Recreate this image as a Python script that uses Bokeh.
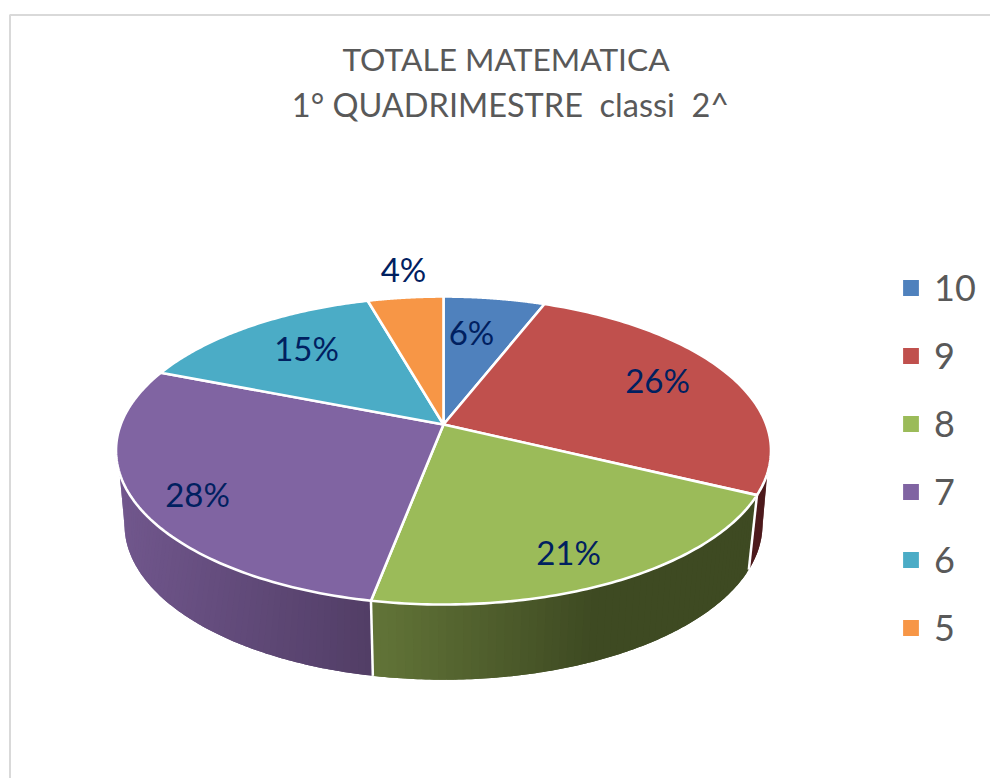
import numpy as np
from bokeh.plotting import figure
from bokeh.models import ColumnDataSource, Legend, LegendItem, Range1d
from bokeh.core.properties import value
from bokeh.embed import file_html
from bokeh.resources import INLINE

categories = ["10", "9", "8", "7", "6", "5"]
shares = [5.9, 26.3, 20.8, 28.0, 14.6, 4.4]
labels = ["6%", "26%", "21%", "28%", "15%", "4%"]
colors = ["#4f81bd", "#c0504d", "#9bbb59", "#8064a2", "#4bacc6", "#f79646"]
title_lines = ["TOTALE MATEMATICA", "1° QUADRIMESTRE\u00a0\u00a0classi\u00a0\u00a02^"]

FONT = "Lato"
GREY = "#595959"
NAVY = "#002060"

A = 0.169
def project(theta_deg, cx, cy, c, b):
    t = np.radians(theta_deg)
    u, v = np.sin(t), np.cos(t)
    d = 1 + A * v
    return cx + c * u / d, cy - b * v / d

def top(t):
    return project(t, 443, 424, 322.8, 149.6)

def bottom(t):
    return project(t, 443, 498, 314.4, 150.6)

W, H = 990, 778
p = figure(width=W, height=H, output_backend="svg", toolbar_location=None,
           x_range=Range1d(0, W), y_range=Range1d(H, 0), min_border=0,
           outline_line_color=None, background_fill_color="white")
p.axis.visible = False
p.grid.visible = False

p.line([W, 9.5, 9.5], [14.5, 14.5, H], line_color="#d9d9d9", line_width=2)

cum = np.cumsum([0] + shares) * 3.6

def mix(c0, c1, f):
    f = min(max(f, 0), 1)
    r = [int(round(a + (b - a) * f)) for a, b in zip(c0, c1)]
    return "#%02x%02x%02x" % tuple(r)

def wall(t0, t1, b0, b1, shade, n=60):
    xs, ys, fc = [], [], []
    for i in range(n):
        j = min(i + 2, n)
        ta = np.linspace(t0 + (t1 - t0) * i / n, t0 + (t1 - t0) * j / n, 5)
        tb = np.linspace(b0 + (b1 - b0) * i / n, b0 + (b1 - b0) * j / n, 5)
        x0, y0 = top(ta)
        x1, y1 = bottom(tb[::-1])
        xs.append(list(x0) + list(x1))
        ys.append(list(y0) + list(y1))
        fc.append(shade(float(np.mean(x0))))
    s = ColumnDataSource(dict(xs=xs, ys=ys, fc=fc))
    p.patches("xs", "ys", source=s, fill_color="fc", line_color=None)

wall(108, cum[2], 100, cum[2], lambda x: "#4d1a1c", n=10)
wall(cum[2], cum[3], cum[2], cum[3],
     lambda x: mix((62, 74, 34), (97, 115, 55), (590 - x) / (590 - 375)))
wall(cum[3], 252, cum[3], 260,
     lambda x: mix((81, 61, 101), (113, 87, 141), (372 - x) / (372 - 120)))

for t in (cum[2], cum[3]):
    x0, y0 = top(t)
    x1, y1 = bottom(t)
    p.line([x0, x1], [y0, y1], line_color="white", line_width=2.5)

items = []
for i, cat in enumerate(categories):
    th = np.linspace(cum[i], cum[i + 1], 90)
    x, y = top(th)
    r = p.patch([443.0] + list(x), [424.0] + list(y), fill_color=colors[i],
                line_color="white", line_width=2.6, line_join="round")
    items.append(LegendItem(label=cat, renderers=[r]))

label_x = [471, 657, 568, 197, 306, 403]
label_y = [331, 379, 551, 493, 347, 268]
p.text(label_x, label_y, text=labels, text_font=value(FONT), text_font_size="33px",
       text_color=NAVY, text_align="center", text_baseline="middle")

p.text([505.5], [58], text=title_lines[:1], text_font=value(FONT), text_font_size="31.7px",
       text_color=GREY, text_align="center", text_baseline="middle")
p.text([510], [104], text=title_lines[1:], text_font=value(FONT), text_font_size="32.5px",
       text_color=GREY, text_align="center", text_baseline="middle")

legend = Legend(items=items, location=(899, 117), orientation="vertical",
                background_fill_alpha=0, border_line_color=None, padding=0, margin=0, spacing=0,
                glyph_width=23, glyph_height=23, label_standoff=12, label_height=68,
                label_text_font=FONT, label_text_font_size="36px", label_text_color=GREY,
                label_text_baseline="middle")
p.add_layout(legend, "center")

open("out.html", "w").write(file_html(p, INLINE))
